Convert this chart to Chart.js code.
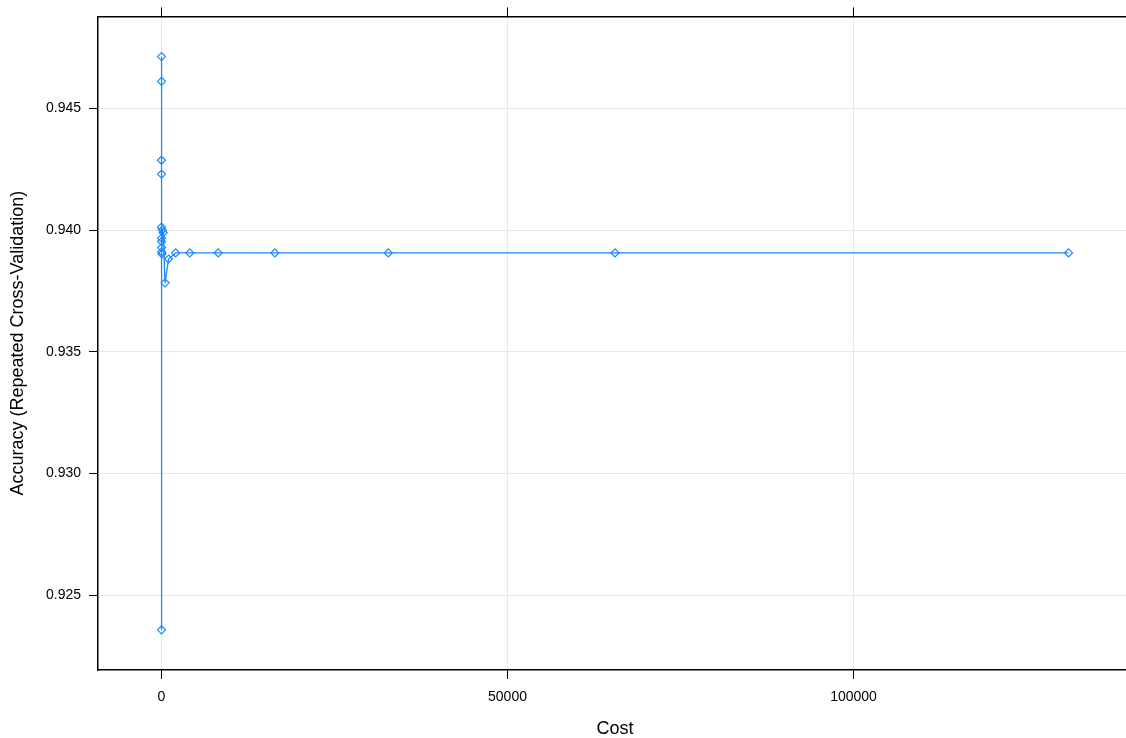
<!DOCTYPE html>
<html>
<head>
<meta charset="utf-8">
<script src="https://cdn.jsdelivr.net/npm/chart.js@4"></script>
<style>
    html, body { margin: 0; padding: 0; background: #fff; overflow: hidden; }
    #wrap { width: 1140px; height: 738px; }
</style>
</head>
<body>
<div id="wrap"><canvas id="costChart" width="1140" height="738"></canvas></div>
<script>
// tuning grid: cost values (powers of two) and CV accuracy
const costs = [0.0625, 0.125, 0.25, 0.5, 1, 2, 4, 8, 16, 32, 64, 128, 256, 512, 1024,
    2048, 4096, 8192, 16384, 32768, 65536, 131072];
const accuracy = [0.92357, 0.94230, 0.94287, 0.94611, 0.94713, 0.94012, 0.93967, 0.93953,
    0.93928, 0.93910, 0.93902, 0.94000, 0.93989, 0.93783, 0.93881,
    0.93906, 0.93906, 0.93906, 0.93906, 0.93906, 0.93906, 0.93906];

const xTicks = [0, 50000, 100000];
const yTicks = [0.925, 0.930, 0.935, 0.940, 0.945];

const xRange = [-9175, 140247];
const yRange = [0.92192, 0.94878];

const lineColor = '#1a88ff';
const gridColor = '#e8e8e8';
const fontFamily = '"Liberation Sans", Arial, sans-serif';

Chart.defaults.font.family = fontFamily;
Chart.defaults.color = '#000';

const points = costs.map((c, i) => ({ x: c, y: accuracy[i] }));

function fixedTicks(values) {
    return scale => { scale.ticks = values.map(v => ({ value: v })); };
}

new Chart(document.getElementById('costChart'), {
    type: 'scatter',
    data: {
        datasets: [{
            data: points,
            showLine: true,
            borderColor: lineColor,
            borderWidth: 1.3,
            pointStyle: 'rectRot',
            pointRadius: 4,
            pointBorderWidth: 1.2,
            pointBorderColor: lineColor,
            pointBackgroundColor: 'rgba(255,255,255,0)',
            tension: 0
        }]
    },
    options: {
        responsive: false,
        animation: false,
        layout: { padding: { right: 8 } },
        plugins: {
            legend: { display: false },
            tooltip: { enabled: false }
        },
        scales: {
            x: {
                type: 'linear',
                position: 'bottom',
                min: xRange[0],
                max: xRange[1],
                afterBuildTicks: fixedTicks(xTicks),
                afterFit: s => { s.height = 68; },
                ticks: {
                    padding: 10,
                    font: { size: 14 },
                    color: '#000',
                    callback: v => String(v)
                },
                grid: { color: gridColor, tickColor: '#000', tickLength: 9 },
                border: { color: '#000', width: 1.5 },
                title: {
                    display: true,
                    text: 'Cost',
                    font: { size: 18, lineHeight: 1 },
                    color: '#000',
                    padding: { top: 0, bottom: 0 }
                }
            },
            xTop: {
                type: 'linear',
                position: 'top',
                min: xRange[0],
                max: xRange[1],
                afterBuildTicks: fixedTicks(xTicks),
                afterFit: s => { s.height = 15; },
                ticks: { display: false },
                grid: { drawOnChartArea: false, tickColor: '#000', tickLength: 9 },
                border: { color: '#000', width: 1.5 }
            },
            y: {
                type: 'linear',
                position: 'left',
                min: yRange[0],
                max: yRange[1],
                afterBuildTicks: fixedTicks(yTicks),
                afterFit: s => { s.width = 98; },
                ticks: {
                    padding: 8,
                    font: { size: 14 },
                    color: '#000',
                    callback: v => v.toFixed(3)
                },
                grid: { color: gridColor, tickColor: '#000', tickLength: 9 },
                border: { color: '#000', width: 1.5 },
                title: {
                    display: true,
                    text: 'Accuracy (Repeated Cross-Validation)',
                    font: { size: 18, lineHeight: 1 },
                    color: '#000',
                    padding: { top: 9, bottom: 0 }
                }
            },
            yRight: {
                type: 'linear',
                position: 'right',
                min: yRange[0],
                max: yRange[1],
                afterBuildTicks: fixedTicks(yTicks),
                afterFit: s => { s.width = 0; },
                ticks: { display: false },
                grid: { drawOnChartArea: false, drawTicks: false },
                border: { color: '#000', width: 1.5 }
            }
        }
    }
});
</script>
</body>
</html>
